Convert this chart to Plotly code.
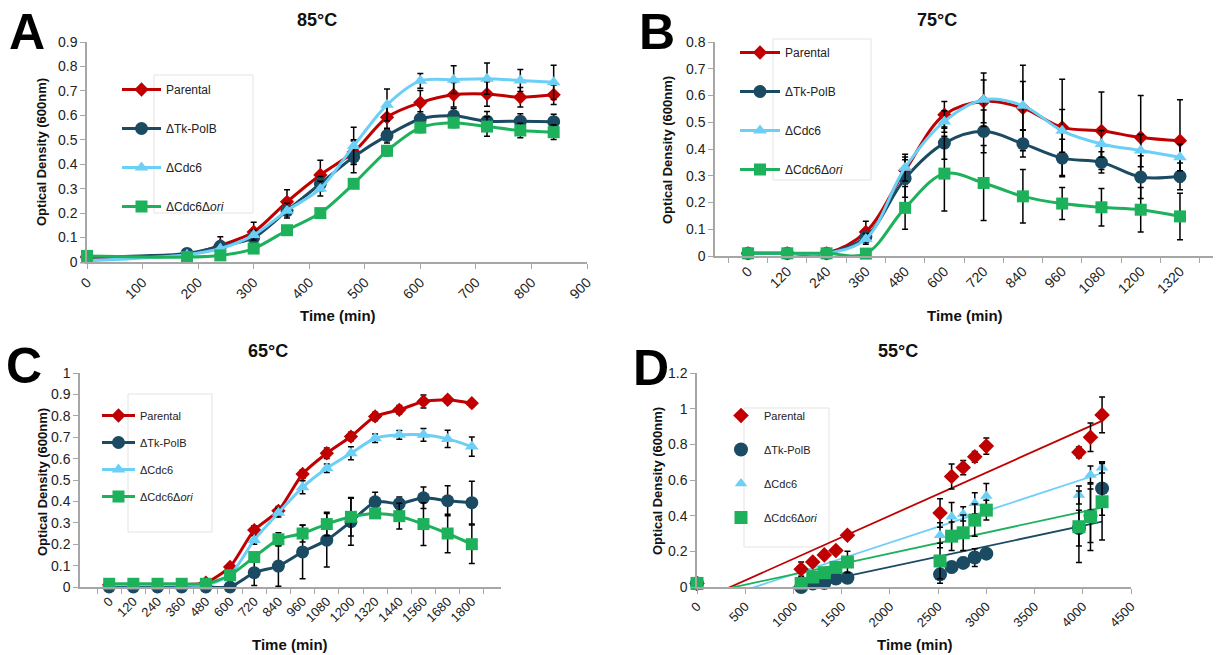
import numpy as np
import plotly.graph_objects as go

W, H = 1217, 655

series_names = ["Parental", "ΔTk-PolB", "ΔCdc6", "ΔCdc6Δ<i>ori</i>"]
colors = ["#C00000", "#1B4A63", "#6CCFF6", "#1CB15A"]

# ---------- Panel A : 85°C ----------
tA = [0, 180, 240, 300, 360, 420, 480, 540, 600, 660, 720, 780, 840]
A_par = [0.02, 0.03, 0.068, 0.123, 0.246, 0.356, 0.45, 0.592, 0.652, 0.684, 0.687, 0.674, 0.684]
A_tk = [0.02, 0.035, 0.064, 0.10, 0.21, 0.32, 0.43, 0.517, 0.585, 0.598, 0.576, 0.576, 0.574]
A_cdc6 = [0.005, 0.03, 0.055, 0.11, 0.21, 0.30, 0.475, 0.643, 0.741, 0.746, 0.75, 0.743, 0.735]
A_ori = [0.025, 0.02, 0.027, 0.055, 0.13, 0.20, 0.32, 0.455, 0.55, 0.57, 0.554, 0.538, 0.531]
A_par_e = [0, 0, 0.035, 0.04, 0.05, 0.06, 0.05, 0.05, 0.05, 0.05, 0.05, 0.04, 0.04]
A_tk_e = [0, 0, 0.01, 0.01, 0.02, 0.03, 0.065, 0.03, 0.03, 0.03, 0.04, 0.03, 0.03]
A_cdc6_e = [0, 0, 0.01, 0.02, 0.03, 0.03, 0.076, 0.065, 0.03, 0.057, 0.064, 0.045, 0.07]
A_ori_e = [0, 0, 0.005, 0.01, 0.01, 0.01, 0.01, 0.02, 0.02, 0.02, 0.04, 0.03, 0.03]
A_xticks = [0, 100, 200, 300, 400, 500, 600, 700, 800, 900]
A_yticks = [0, 0.1, 0.2, 0.3, 0.4, 0.5, 0.6, 0.7, 0.8, 0.9]

# ---------- Panel B : 75°C ----------
B_cats = ["0", "120", "240", "360", "480", "600", "720", "840", "960", "1080", "1200", "1320"]
B_par = [0.01, 0.01, 0.01, 0.09, 0.32, 0.528, 0.578, 0.553, 0.481, 0.468, 0.443, 0.431]
B_tk = [0.01, 0.01, 0.01, 0.071, 0.29, 0.422, 0.466, 0.42, 0.366, 0.35, 0.295, 0.298]
B_cdc6 = [0.01, 0.01, 0.01, 0.064, 0.33, 0.503, 0.584, 0.562, 0.468, 0.419, 0.394, 0.369]
B_ori = [0.01, 0.01, 0.01, 0.009, 0.18, 0.308, 0.273, 0.223, 0.196, 0.182, 0.173, 0.148]
B_par_e = [0, 0, 0, 0.04, 0.05, 0.05, 0.08, 0.16, 0.18, 0.145, 0.157, 0.153]
B_tk_e = [0, 0, 0, 0.02, 0.07, 0.06, 0.08, 0.05, 0.07, 0.04, 0.08, 0.05]
B_cdc6_e = [0, 0, 0, 0.02, 0.05, 0.04, 0.10, 0.09, 0.08, 0.05, 0.06, 0.05]
B_ori_e = [0, 0, 0, 0.005, 0.08, 0.14, 0.14, 0.10, 0.06, 0.07, 0.083, 0.087]
B_yticks = [0, 0.1, 0.2, 0.3, 0.4, 0.5, 0.6, 0.7, 0.8]

# ---------- Panel C : 65°C ----------
C_cats = ["0", "120", "240", "360", "480", "600", "720", "840", "960", "1080",
          "1200", "1320", "1440", "1560", "1680", "1800"]
C_par = [0.01, 0.01, 0.01, 0.01, 0.02, 0.094, 0.266, 0.356, 0.528, 0.625, 0.703, 0.797, 0.828, 0.867, 0.875, 0.859]
C_tk = [0, 0, 0, 0, 0, 0, 0.067, 0.098, 0.164, 0.219, 0.305, 0.398, 0.39, 0.417, 0.403, 0.394]
C_cdc6 = [0.01, 0.01, 0.01, 0.01, 0.01, 0.055, 0.22, 0.347, 0.466, 0.555, 0.625, 0.695, 0.711, 0.711, 0.692, 0.656]
C_ori = [0.015, 0.015, 0.015, 0.015, 0.015, 0.055, 0.14, 0.223, 0.25, 0.294, 0.328, 0.344, 0.331, 0.294, 0.25, 0.2]
C_par_e = [0, 0, 0, 0, 0, 0.01, 0.02, 0.02, 0.02, 0.025, 0.02, 0.02, 0.02, 0.03, 0.015, 0.015]
C_tk_e = [0, 0, 0, 0, 0, 0, 0.06, 0.095, 0.125, 0.125, 0.11, 0.045, 0.03, 0.05, 0.07, 0.10]
C_cdc6_e = [0, 0, 0, 0, 0, 0.01, 0.02, 0.02, 0.03, 0.02, 0.03, 0.02, 0.02, 0.03, 0.04, 0.045]
C_ori_e = [0, 0, 0, 0, 0, 0.01, 0.02, 0.03, 0.04, 0.055, 0.09, 0.02, 0.06, 0.10, 0.09, 0.09]
C_yticks = [0, 0.1, 0.2, 0.3, 0.4, 0.5, 0.6, 0.7, 0.8, 0.9, 1]

# ---------- Panel D : 55°C ----------
tD = [0, 1080, 1200, 1320, 1440, 1560, 2520, 2640, 2760, 2880, 3000, 3960, 4080, 4200]
D_par = [0.02, 0.10, 0.14, 0.18, 0.205, 0.29, 0.415, 0.62, 0.67, 0.73, 0.79, 0.755, 0.84, 0.965]
D_tk = [0.02, 0.0, 0.019, 0.022, 0.047, 0.052, 0.071, 0.112, 0.135, 0.165, 0.187, 0.33, 0.40, 0.553]
D_cdc6 = [0.02, 0.03, 0.05, 0.08, 0.10, 0.14, 0.29, 0.394, 0.41, 0.469, 0.51, 0.516, 0.628, 0.669]
D_ori = [0.02, 0.02, 0.056, 0.08, 0.11, 0.14, 0.146, 0.285, 0.304, 0.375, 0.431, 0.338, 0.394, 0.478]
D_par_e = [0, 0.04, 0.02, 0.02, 0.02, 0.02, 0.08, 0.07, 0.04, 0.03, 0.045, 0.03, 0.08, 0.10]
D_tk_e = [0, 0.01, 0.01, 0.01, 0.01, 0.01, 0.05, 0.03, 0.03, 0.05, 0.02, 0.10, 0.15, 0.15]
D_cdc6_e = [0, 0.01, 0.01, 0.01, 0.01, 0.02, 0.07, 0.08, 0.04, 0.06, 0.07, 0.05, 0.05, 0.03]
D_ori_e = [0, 0.01, 0.01, 0.02, 0.02, 0.06, 0.10, 0.08, 0.10, 0.09, 0.056, 0.20, 0.19, 0.215]
D_xticks = [0, 500, 1000, 1500, 2000, 2500, 3000, 3500, 4000, 4500]
D_yticks = [0, 0.2, 0.4, 0.6, 0.8, 1, 1.2]

FONT = "Arial, Liberation Sans, sans-serif"


def px_x(p):
    return p / W


def px_y(p):
    return 1 - p / H


fig = go.Figure()

symbols = ["diamond", "circle", "triangle-up", "square"]


def add_line_panel(xs, ys_list, errs_list, xa, ya, legend, smoothing, msizes):
    for i, (ys, es) in enumerate(zip(ys_list, errs_list)):
        fig.add_trace(go.Scatter(
            x=xs, y=ys, mode="lines+markers", name=series_names[i],
            xaxis=xa, yaxis=ya, legend=legend, legendgroup=f"{legend}{i}",
            line=dict(color=colors[i], width=3, shape="spline", smoothing=smoothing),
            marker=dict(symbol=symbols[i], size=msizes[i], color=colors[i]),
            error_y=dict(type="data", array=es, color="black", thickness=1.5, width=3),
            cliponaxis=False,
        ))


add_line_panel(tA, [A_par, A_tk, A_cdc6, A_ori], [A_par_e, A_tk_e, A_cdc6_e, A_ori_e],
               "x", "y", "legend", 0.8, [11, 13, 12, 12])
add_line_panel(B_cats, [B_par, B_tk, B_cdc6, B_ori], [B_par_e, B_tk_e, B_cdc6_e, B_ori_e],
               "x2", "y2", "legend2", 1.0, [11, 13, 12, 12])
add_line_panel(C_cats, [C_par, C_tk, C_cdc6, C_ori], [C_par_e, C_tk_e, C_cdc6_e, C_ori_e],
               "x3", "y3", "legend3", 0.6, [11, 13, 12, 12])

# Panel D: scatter + linear trendlines
D_sets = [D_par, D_tk, D_cdc6, D_ori]
D_errs = [D_par_e, D_tk_e, D_cdc6_e, D_ori_e]
D_msizes = [12, 14, 11, 13]
tD_arr = np.array(tD, dtype=float)
for i, ys in enumerate(D_sets):
    slope, intercept = np.polyfit(tD_arr, np.array(ys), 1)
    xl = np.array([tD_arr.min(), tD_arr.max()])
    fig.add_trace(go.Scatter(
        x=xl, y=slope * xl + intercept, mode="lines", showlegend=False,
        xaxis="x4", yaxis="y4", line=dict(color=colors[i], width=1.8),
        hoverinfo="skip",
    ))
for i, ys in enumerate(D_sets):
    fig.add_trace(go.Scatter(
        x=tD, y=ys, mode="markers", name=series_names[i],
        xaxis="x4", yaxis="y4", legend="legend4", legendgroup=f"legend4{i}",
        marker=dict(symbol=symbols[i], size=D_msizes[i], color=colors[i]),
        error_y=dict(type="data", array=D_errs[i], color="black", thickness=1.5, width=3),
        cliponaxis=False,
    ))

axis_common = dict(showline=True, linecolor="#A6A6A6", linewidth=1.5, ticks="outside",
                   ticklen=5, tickcolor="#A6A6A6", showgrid=False, zeroline=False,
                   automargin=False,
                   tickfont=dict(family=FONT, size=14, color="#222222"))

fig.update_layout(
    template="none",
    width=W, height=H,
    margin=dict(l=0, r=0, t=0, b=0, pad=0, autoexpand=False),
    paper_bgcolor="white", plot_bgcolor="rgba(0,0,0,0)",
    font=dict(family=FONT, color="#222222"),
    xaxis=dict(axis_common, domain=[px_x(87), px_x(587)], range=[0, 900],
               tickvals=A_xticks, ticktext=[str(v) for v in A_xticks], tickangle=-45, anchor="y"),
    yaxis=dict(axis_common, domain=[px_y(262), px_y(42)], range=[0, 0.9],
               tickvals=A_yticks, ticktext=[f"{v:g}" for v in A_yticks], anchor="x"),
    xaxis2=dict(axis_common, domain=[px_x(715), px_x(1213)], type="category",
                tickson="boundaries", tickangle=-45, anchor="y2"),
    yaxis2=dict(axis_common, domain=[px_y(256), px_y(42)], range=[0, 0.8],
                tickvals=B_yticks, ticktext=[f"{v:g}" for v in B_yticks], anchor="x2"),
    xaxis3=dict(axis_common, domain=[px_x(80), px_x(501)], type="category",
                tickson="boundaries", tickangle=-45, anchor="y3",
                tickfont=dict(family=FONT, size=13, color="#222222")),
    yaxis3=dict(axis_common, domain=[px_y(587), px_y(373)], range=[0, 1],
                tickvals=C_yticks, ticktext=[f"{v:g}" for v in C_yticks], anchor="x3"),
    xaxis4=dict(axis_common, domain=[px_x(697), px_x(1131)], range=[0, 4500],
                tickvals=D_xticks, ticktext=[str(v) for v in D_xticks], tickangle=-45, anchor="y4",
                tickfont=dict(family=FONT, size=13, color="#222222")),
    yaxis4=dict(axis_common, domain=[px_y(587), px_y(373)], range=[0, 1.2],
                tickvals=D_yticks, ticktext=[f"{v:g}" for v in D_yticks], anchor="x4"),
)


def legend_cfg(left, top, size, itemwidth, gap):
    return dict(x=px_x(left), y=px_y(top), xanchor="left", yanchor="top",
                bgcolor="rgba(0,0,0,0)", borderwidth=0,
                font=dict(family=FONT, size=size, color="#222222"),
                itemwidth=itemwidth, tracegroupgap=gap, traceorder="grouped")


fig.update_layout(
    legend=legend_cfg(117, 75, 12, 39, 20),
    legend2=legend_cfg(735, 38, 12, 40, 20),
    legend3=legend_cfg(97, 401, 11, 33, 8),
    legend4=legend_cfg(718, 401, 11, 36, 15),
)

# legend boxes
for (x0, y0, x1, y1) in [(154, 75, 253, 213), (773, 39, 871, 180), (128, 394, 212, 532), (744, 408, 829, 547)]:
    fig.add_shape(type="rect", xref="paper", yref="paper",
                  x0=px_x(x0), x1=px_x(x1), y0=px_y(y1), y1=px_y(y0),
                  line=dict(color="#E3E3E3", width=1), fillcolor="white", layer="below")

annots = []
# panel letters
for txt, x, y in [("A", 27, 32), ("B", 657, 32), ("C", 24, 366), ("D", 651, 368)]:
    annots.append(dict(text=f"<b>{txt}</b>", x=px_x(x), y=px_y(y), xref="paper", yref="paper",
                       showarrow=False, font=dict(family=FONT, size=50, color="black"),
                       xanchor="center", yanchor="middle"))
# titles
for txt, x, y in [("85°C", 317, 20), ("75°C", 937, 20), ("65°C", 268, 351), ("55°C", 898, 351)]:
    annots.append(dict(text=f"<b>{txt}</b>", x=px_x(x), y=px_y(y), xref="paper", yref="paper",
                       showarrow=False, font=dict(family=FONT, size=18, color="#111111"),
                       xanchor="center", yanchor="middle"))
# y axis titles
for x, y in [(42, 152), (668, 150), (42, 482), (657, 481)]:
    annots.append(dict(text="<b>Optical Density (600nm)</b>", x=px_x(x), y=px_y(y),
                       xref="paper", yref="paper", showarrow=False, textangle=-90,
                       font=dict(family=FONT, size=13, color="#111111"),
                       xanchor="center", yanchor="middle"))
# x axis titles
for x, y in [(338, 315), (965, 315), (290, 644), (915, 644)]:
    annots.append(dict(text="<b>Time (min)</b>", x=px_x(x), y=px_y(y),
                       xref="paper", yref="paper", showarrow=False,
                       font=dict(family=FONT, size=15, color="#111111"),
                       xanchor="center", yanchor="middle"))
fig.update_layout(annotations=annots)

fig.write_html("out.html", config={"displayModeBar": False},
               post_script="document.body.style.margin='0';document.body.style.overflow='hidden';")
